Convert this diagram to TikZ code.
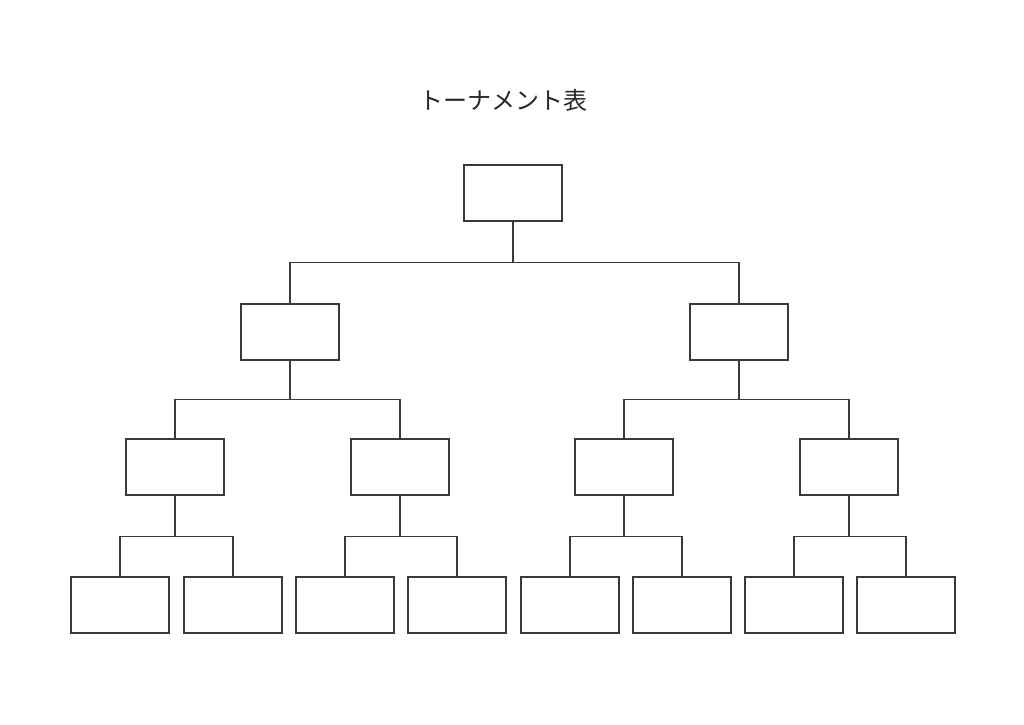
\documentclass[tikz,border=0pt]{standalone}
\usepackage{fontspec}
\newfontfamily\cjk{Noto Sans CJK JP}
\usetikzlibrary{positioning}

\begin{document}
\begin{tikzpicture}[x=1pt,y=-1pt,line width=1.2pt,draw=black!78]
\tikzset{slot/.style={draw=black!78,minimum width=98pt,minimum height=56pt,inner sep=0pt}}
\useasboundingbox (0,0) rectangle (1024,724);
\node[font=\cjk\fontsize{24}{24}\selectfont,text=black!85] (title) at (503,100) {トーナメント表};
% boxes
\node[slot] (f) at (513,193) {};
\foreach \n/\x in {1/290, 2/739}
    \node[slot] (s\n) at (\x,332) {};
\foreach \n/\x in {1/175, 2/400, 3/624, 4/849}
    \node[slot] (q\n) at (\x,467) {};
\foreach \n/\x in {1/120, 2/233, 3/345, 4/457, 5/570, 6/682, 7/794, 8/906}
    \node[slot] (r\n) at (\x,605) {};
% lines
\foreach \c in {s1, s2}
    \draw (f.south) -- ++(0,41) -| (\c.north);
\foreach \p/\a/\b in {s1/q1/q2, s2/q3/q4}
  {
    \draw (\p.south) -- ++(0,39) -| (\a.north);
    \draw (\p.south) -- ++(0,39) -| (\b.north);
  }
\foreach \p/\a/\b in {q1/r1/r2, q2/r3/r4, q3/r5/r6, q4/r7/r8}
  {
    \draw (\p.south) -- ++(0,41) -| (\a.north);
    \draw (\p.south) -- ++(0,41) -| (\b.north);
  }
\end{tikzpicture}
\end{document}
